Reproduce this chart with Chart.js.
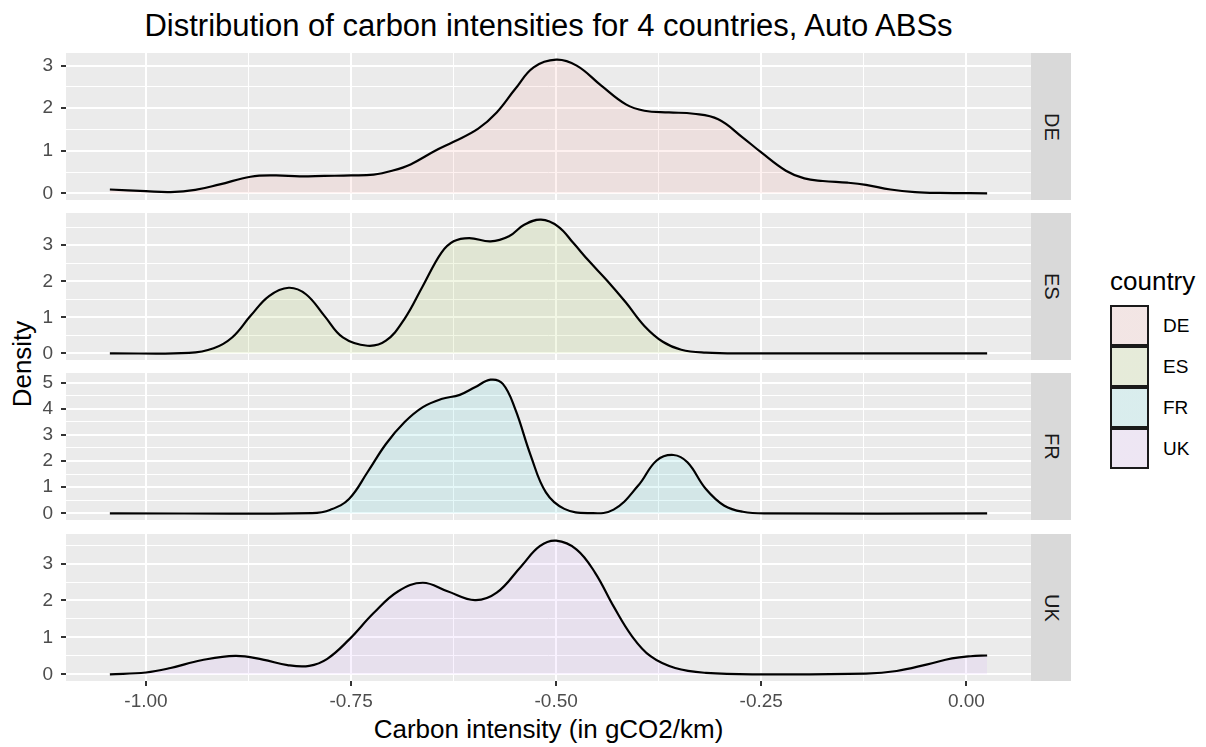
<!DOCTYPE html>
<html>
<head>
<meta charset="utf-8">
<script src="https://cdn.jsdelivr.net/npm/chart.js@4"></script>
<style>
  body { margin: 0; background: #fff; font-family: "Liberation Sans", Arial, sans-serif; }
  #wrap { position: relative; width: 1206px; height: 747px; overflow: hidden; }
  #wrap canvas { position: absolute; left: 0; }
  .strip { position: absolute; left: 1031px; width: 40px; height: 147px; background: #D9D9D9;
           color: #1A1A1A; font-size: 20px; display: flex; align-items: center; justify-content: center; }
  .strip span { writing-mode: vertical-rl; }
  #title { position: absolute; left: 66px; width: 965px; top: 10px; text-align: center; font-size: 31px; line-height: 31px; color: #000; white-space: nowrap; }
  #xtitle { position: absolute; left: 66px; width: 965px; top: 716px; text-align: center; font-size: 26px; line-height: 26px; color: #000; white-space: nowrap; }
  #ytitle { position: absolute; left: 22px; top: 364px; transform: translate(-50%, -50%) rotate(-90deg); font-size: 26px; line-height: 26px; color: #000; white-space: nowrap; }
  #legend { position: absolute; left: 1110px; top: 268px; }
  #legend .lt { font-size: 26px; line-height: 26px; color: #000; margin-bottom: 11px; }
  #legend .row { display: flex; align-items: center; height: 41px; }
  #legend .key { width: 35px; height: 37px; border: 2px solid #1A1A1A; }
  #legend .lab { margin-left: 14px; font-size: 19px; color: #000; }
</style>
</head>
<body>
<div id="wrap">
  <div id="title">Distribution of carbon intensities for 4 countries, Auto ABSs</div>
  <div id="xtitle">Carbon intensity (in gCO2/km)</div>
  <div id="ytitle">Density</div>
  <div id="legend"></div>
</div>
<script>
// density estimates per country
const countries = ['DE', 'ES', 'FR', 'UK'];

const deX = [-1.044, -1.0, -0.97, -0.94, -0.91, -0.8725, -0.8425, -0.8125, -0.7825, -0.75, -0.7225, -0.70, -0.6775, -0.6475, -0.625, -0.595, -0.5725, -0.55, -0.5275, -0.50, -0.475, -0.445, -0.415, -0.3925, -0.3625, -0.3325, -0.3025, -0.2725, -0.25, -0.22, -0.1975, -0.175, -0.145, -0.1225, -0.0925, -0.0625, -0.0325, 0.0253];
const deY = [0.09, 0.05, 0.03, 0.08, 0.21, 0.39, 0.42, 0.40, 0.41, 0.42, 0.44, 0.53, 0.68, 1.0, 1.21, 1.52, 1.90, 2.45, 2.96, 3.14, 3.0, 2.53, 2.09, 1.94, 1.90, 1.87, 1.74, 1.31, 0.96, 0.53, 0.35, 0.29, 0.25, 0.20, 0.09, 0.03, 0.01, 0.0];

const esX = [-1.044, -0.9475, -0.9175, -0.895, -0.8725, -0.85, -0.826, -0.805, -0.7825, -0.76, -0.73, -0.7075, -0.685, -0.6625, -0.64, -0.625, -0.606, -0.58, -0.5575, -0.539, -0.5185, -0.4975, -0.479, -0.46, -0.4375, -0.415, -0.3925, -0.37, -0.3475, -0.3175, -0.2725, 0.0253];
const esY = [0, 0.01, 0.14, 0.44, 1.04, 1.59, 1.82, 1.64, 1.04, 0.44, 0.21, 0.35, 0.95, 1.87, 2.79, 3.11, 3.20, 3.11, 3.25, 3.57, 3.71, 3.52, 3.06, 2.56, 2.01, 1.41, 0.76, 0.32, 0.10, 0.02, 0, 0];

const frX = [-1.044, -0.7975, -0.775, -0.7525, -0.73, -0.7075, -0.685, -0.6625, -0.64, -0.6175, -0.599, -0.58, -0.565, -0.55, -0.531, -0.5125, -0.49, -0.46, -0.43, -0.40, -0.3775, -0.357, -0.34, -0.3175, -0.295, -0.2725, -0.2425, 0.0253];
const frY = [0, 0.01, 0.14, 0.55, 1.57, 2.65, 3.48, 4.06, 4.37, 4.53, 4.82, 5.11, 4.95, 3.99, 2.21, 0.80, 0.17, 0.01, 0.14, 1.06, 2.02, 2.23, 1.95, 0.93, 0.29, 0.06, 0, 0];

const ukX = [-1.044, -1.0, -0.97, -0.9325, -0.891, -0.8575, -0.8275, -0.801, -0.779, -0.7525, -0.7225, -0.6925, -0.6625, -0.6325, -0.599, -0.5725, -0.5425, -0.52, -0.50, -0.475, -0.4525, -0.43, -0.4075, -0.385, -0.355, -0.3175, -0.25, -0.1225, -0.085, -0.0475, -0.0175, 0.005, 0.0253];
const ukY = [0, 0.05, 0.17, 0.38, 0.50, 0.40, 0.25, 0.23, 0.42, 0.94, 1.66, 2.25, 2.48, 2.25, 2.01, 2.21, 2.93, 3.47, 3.62, 3.38, 2.75, 1.84, 1.03, 0.49, 0.17, 0.04, 0, 0.02, 0.09, 0.27, 0.43, 0.49, 0.51];

const xBreaks = [-1.00, -0.75, -0.50, -0.25, 0.00];
const xTickLabels = ['-1.00', '-0.75', '-0.50', '-0.25', '0.00'];

const seriesX = [deX, esX, frX, ukX];
const seriesY = [deY, esY, frY, ukY];

// styling
const fillColours = ['rgba(248,118,109,0.1)', 'rgba(124,174,0,0.1)', 'rgba(0,191,196,0.1)', 'rgba(199,124,255,0.1)'];
const panelTops = [53, 213, 373, 534];
const PANEL_H = 147, PANEL_RIGHT = 1031, AXIS_W = 66, XAXIS_H = 34;

Chart.defaults.font.family = '"Liberation Sans", Arial, sans-serif';

// ggplot-style grey panel
const panelBg = {
  id: 'panelBg',
  beforeDraw(chart) {
    const { ctx, chartArea: a } = chart;
    ctx.save();
    ctx.fillStyle = '#EBEBEB';
    ctx.fillRect(a.left, a.top, a.right - a.left, a.bottom - a.top);
    ctx.restore();
  }
};

// shared x range, expanded 5% each side
const allX = seriesX.flat();
const xMinData = Math.min(...allX), xMaxData = Math.max(...allX);
const xPad = 0.05 * (xMaxData - xMinData);
const xLo = xMinData - xPad, xHi = xMaxData + xPad;

const xGrid = [];
xBreaks.forEach((b, i) => {
  xGrid.push(b);
  if (i < xBreaks.length - 1) xGrid.push((b + xBreaks[i + 1]) / 2);
});
const isXMajor = v => xBreaks.some(b => Math.abs(b - v) < 1e-9);
const isInt = v => Math.abs(v - Math.round(v)) < 1e-9;

// keep every panel exactly the size of its canvas
function noPad(s) { s.paddingTop = 0; s.paddingBottom = 0; s.paddingLeft = 0; s.paddingRight = 0; }

const wrap = document.getElementById('wrap');

countries.forEach((name, i) => {
  const last = i === countries.length - 1;
  const xs = seriesX[i], ys = seriesY[i];
  const peak = Math.max(...ys);
  const yLo = -0.05 * peak, yHi = 1.05 * peak;
  const yGrid = [];
  for (let v = 0; v <= yHi + 1e-9; v += 0.5) yGrid.push(v);

  const cv = document.createElement('canvas');
  cv.width = PANEL_RIGHT;
  cv.height = PANEL_H + (last ? XAXIS_H : 0);
  cv.style.top = panelTops[i] + 'px';
  wrap.appendChild(cv);

  const strip = document.createElement('div');
  strip.className = 'strip';
  strip.style.top = panelTops[i] + 'px';
  strip.innerHTML = '<span>' + name + '</span>';
  wrap.appendChild(strip);

  new Chart(cv, {
    type: 'line',
    data: {
      datasets: [{
        label: name,
        data: xs.map((x, k) => ({ x: x, y: ys[k] })),
        borderColor: '#000',
        borderWidth: 2.2,
        backgroundColor: fillColours[i],
        fill: 'origin',
        pointRadius: 0,
        tension: 0.4
      }]
    },
    options: {
      responsive: false,
      animation: false,
      events: [],
      layout: { padding: 0, autoPadding: false },
      plugins: { legend: { display: false }, tooltip: { enabled: false } },
      scales: {
        x: {
          type: 'linear',
          min: xLo,
          max: xHi,
          afterBuildTicks: s => { s.ticks = xGrid.map(v => ({ value: v })); },
          afterFit: s => { s.height = last ? XAXIS_H : 0; noPad(s); },
          border: { display: false },
          grid: {
            color: '#FFFFFF',
            lineWidth: c => (c.tick && isXMajor(c.tick.value)) ? 2 : 1,
            drawTicks: last,
            tickLength: 5,
            tickWidth: 2,
            tickColor: c => (c.tick && isXMajor(c.tick.value)) ? '#333333' : 'rgba(0,0,0,0)'
          },
          ticks: {
            display: last,
            autoSkip: false,
            maxRotation: 0,
            padding: 4,
            color: '#4D4D4D',
            font: { size: 19 },
            callback: v => {
              const j = xBreaks.findIndex(b => Math.abs(b - v) < 1e-9);
              return j >= 0 ? xTickLabels[j] : '';
            }
          }
        },
        y: {
          type: 'linear',
          min: yLo,
          max: yHi,
          afterBuildTicks: s => { s.ticks = yGrid.map(v => ({ value: v })); },
          afterFit: s => { s.width = AXIS_W; noPad(s); },
          border: { display: false },
          grid: {
            color: '#FFFFFF',
            lineWidth: c => (c.tick && isInt(c.tick.value)) ? 2 : 1,
            tickLength: 5,
            tickWidth: 2,
            tickColor: c => (c.tick && isInt(c.tick.value)) ? '#333333' : 'rgba(0,0,0,0)'
          },
          ticks: {
            autoSkip: false,
            padding: 8,
            color: '#4D4D4D',
            font: { size: 19 },
            callback: v => isInt(v) ? String(Math.round(v)) : ''
          }
        }
      }
    },
    plugins: [panelBg]
  });
});

// legend
const legend = document.getElementById('legend');
legend.innerHTML = '<div class="lt">country</div>' + countries.map((c, i) =>
  '<div class="row"><div class="key" style="background:linear-gradient(' + fillColours[i] + ',' + fillColours[i] + '),#F2F2F2"></div>' +
  '<div class="lab">' + c + '</div></div>').join('');
</script>
</body>
</html>
